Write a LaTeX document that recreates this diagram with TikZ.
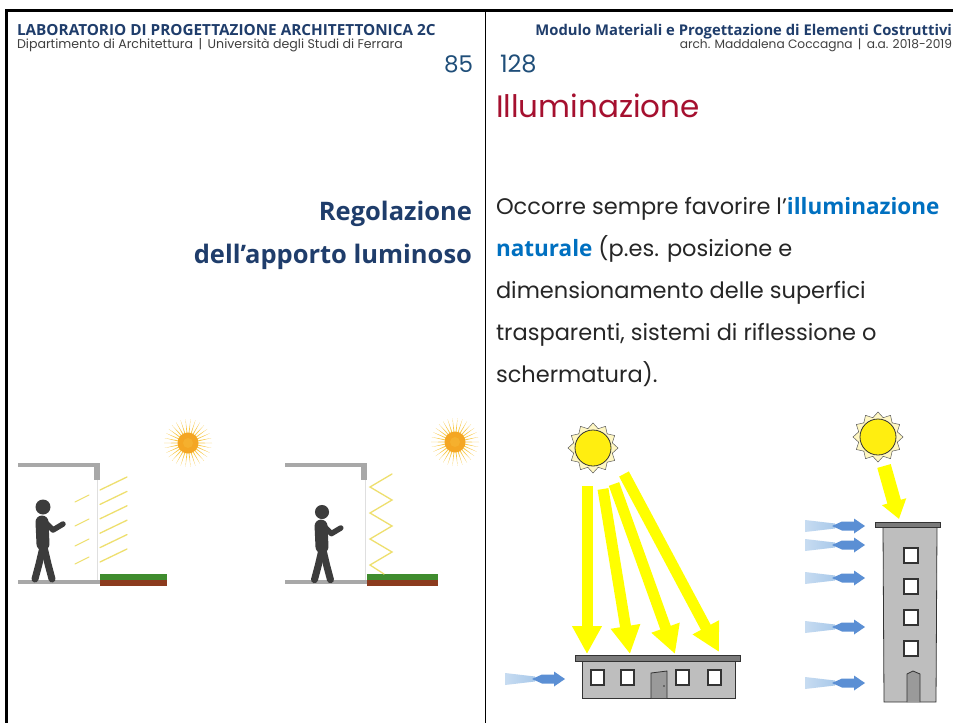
\documentclass[tikz,border=0pt]{standalone}
\usepackage{fontspec}
\setmainfont{Poppins}
\newfontfamily\hdr{Open Sans}
\usetikzlibrary{arrows.meta}

\definecolor{navy}{HTML}{1F3D6B}
\definecolor{numblue}{HTML}{1F4E79}
\definecolor{crimson}{HTML}{A5102F}
\definecolor{hiblue}{HTML}{0070C0}
\definecolor{bodytxt}{HTML}{262626}
\definecolor{subtxt}{HTML}{404040}
\definecolor{wallgray}{HTML}{A8A8A8}
\definecolor{sunray}{HTML}{F8C848}
\definecolor{suncore}{HTML}{F4A623}
\definecolor{louver}{HTML}{EEDF6E}
\definecolor{grass}{HTML}{3F8C2E}
\definecolor{soil}{HTML}{8C3B1E}
\definecolor{figure}{HTML}{3C3C3C}
\definecolor{beam}{HTML}{FFFF00}
\definecolor{sundisc}{HTML}{FFEE10}
\definecolor{sunhalo}{HTML}{FFF7C2}
\definecolor{bldg}{HTML}{BEBEBE}
\definecolor{roof}{HTML}{7A7A7A}
\definecolor{outline}{HTML}{333333}
\definecolor{doorgray}{HTML}{9A9A9A}
\definecolor{windlight}{HTML}{A9C9EA}
\definecolor{winddark}{HTML}{5B8FD4}

\tikzset{
  txt/.style={inner sep=0pt, outer sep=0pt},
  frameline/.style={line width=3pt, black},
  divider/.style={line width=1pt, black},
  slab/.style={fill=wallgray, draw=none},
  louverline/.style={draw=louver, line width=1.3pt, line cap=round},
  limb/.style={draw=figure, line cap=round, line join=round},
  bigbeam/.style={draw=beam, line width=11pt, -{Triangle[width=28pt,length=28pt]}},
  smallbeam/.style={draw=beam, line width=14pt, -{Triangle[width=24pt,length=18pt]}},
  wall/.style={fill=bldg, draw=outline, line width=0.8pt},
  roofslab/.style={fill=roof, draw=outline, line width=0.8pt},
  pane/.style={fill=white, draw=outline, line width=2.8pt},
  doorleaf/.style={fill=doorgray, draw=outline, line width=0.8pt},
}

% radiant orange sun
\newcommand\glowsun[2]{%
  \begin{scope}[shift={(#1,#2)}]
    \foreach \a in {0,12,...,348}{\fill[sunray] (\a-4:8) -- (\a:24) -- (\a+4:8) -- cycle;}
    \fill[suncore] (0,0) circle (10.5);
    \fill[suncore!70!sunray] (0,0) circle (5);
  \end{scope}}

% hand-drawn yellow sun
\newcommand\sketchsun[2]{%
  \begin{scope}[shift={(#1,#2)}]
    \draw[fill=sunhalo, draw=outline!80, line width=0.5pt]
      (0:25) \foreach \a in {15,30,...,345}{ -- (\a:{mod(\a,30)==0 ? 25 : 20})} -- cycle;
    \draw[fill=sundisc, draw=outline, line width=0.8pt] (0,0) circle (18);
  \end{scope}}

% standing figure, origin at head centre
\newcommand\person[3]{%
  \begin{scope}[shift={(#1,#2)}, scale=#3]
    \fill[figure] (0,0) circle (7.5);
    \draw[limb, line width=13pt] (-1,15) -- (0,37);
    \draw[limb, line width=5.5pt] (2,15) -- (10,23) -- (20,17);
    \draw[limb, line width=7pt] (0,40) -- (-4,57) -- (-8,72);
    \draw[limb, line width=7pt] (1,40) -- (5,57) -- (9,72);
  \end{scope}}

% wind arrow, origin at its left end
\newcommand\wind[2]{%
  \begin{scope}[shift={(#1,#2)}]
    \shade[left color=windlight!65, right color=windlight]
      (0,-6) -- (30,-2.5) -- (30,2.5) -- (0,6) -- cycle;
    \fill[winddark] (27,0) -- (37,-4.5) -- (49,-4.5) -- (49,-7.5) -- (60,0)
      -- (49,7.5) -- (49,4.5) -- (37,4.5) -- cycle;
  \end{scope}}

\begin{document}
\begin{tikzpicture}[x=1pt, y=-1pt]
  \useasboundingbox (0,0) rectangle (953,723);
  \fill[white] (0,0) rectangle (953,723);

  % page frame and column divider
  \draw[frameline] (5,10.5) -- (953,10.5);
  \draw[frameline] (6.5,9) -- (6.5,723);
  \draw[divider] (485,10) -- (485,723);

  % left header
  \node[txt, anchor=base west, text=navy, font=\hdr\bfseries\fontsize{15.3}{17}\selectfont]
    (lab) at (17,35) {LABORATORIO DI PROGETTAZIONE ARCHITETTONICA 2C};
  \node[txt, anchor=base west, text=subtxt, font=\fontsize{12.6}{14}\selectfont]
    (dip) at (17,48) {Dipartimento di Architettura \,|\, Università degli Studi di Ferrara};
  \node[txt, anchor=base east, text=numblue, font=\fontsize{23}{25}\selectfont]
    (pgl) at (473,72) {85};

  % right header
  \node[txt, anchor=base east, text=navy, font=\hdr\bfseries\fontsize{14.8}{17}\selectfont]
    (mod) at (952,35) {Modulo Materiali e Progettazione di Elementi Costruttivi};
  \node[txt, anchor=base east, text=subtxt, font=\fontsize{12.2}{14}\selectfont]
    (arch) at (952,48) {arch. Maddalena Coccagna \,|\, a.a. 2018-2019};
  \node[txt, anchor=base west, text=numblue, font=\fontsize{24}{26}\selectfont]
    (pgr) at (500,72) {128};
  \node[txt, anchor=base west, text=crimson, font=\fontsize{31}{34}\selectfont]
    (title) at (496,117) {Illuminazione};

  % side heading
  \node[txt, anchor=base east, text=navy, font=\hdr\bfseries\fontsize{25.5}{28}\selectfont]
    (reg1) at (472,220) {Regolazione};
  \node[txt, anchor=base east, text=navy, font=\hdr\bfseries\fontsize{25.5}{28}\selectfont]
    (reg2) at (472,263) {dell’apporto luminoso};

  % body text
  \begin{scope}[every node/.style={txt, anchor=base west, text=bodytxt, font=\fontsize{22.5}{26}\selectfont}]
    \node (l1) at (496,214) {Occorre sempre favorire l’\textcolor{hiblue}{\hdr\bfseries illuminazione}};
    \node (l2) at (496,256) {\textcolor{hiblue}{\hdr\bfseries naturale} (p.es. posizione e};
    \node (l3) at (496,298) {dimensionamento delle superfici};
    \node (l4) at (496,340) {trasparenti, sistemi di riflessione o};
    \node (l5) at (496,382) {schermatura).};
  \end{scope}

  % ---- section 1: inclined louvers ----
  \fill[slab] (18,463) rectangle (100,467);
  \fill[slab] (94,463) rectangle (100,480);
  \draw[draw=gray!25, line width=0.6pt] (97,480) -- (97,580);
  \fill[slab] (18,580) rectangle (100,584);
  \fill[grass] (100,574) rectangle (167,580);
  \fill[soil] (100,580) rectangle (167,586);
  \foreach \i in {0,...,5}{
    \draw[louverline] (100,{490+14.4*\i}) -- (127,{477+14.4*\i});
  }
  \foreach \yy in {502,526,546,564}{
    \draw[louverline, line width=1pt] (75,\yy) -- (89,\yy-7);
  }
  \person{43}{507}{1}
  \glowsun{188}{443}

  % ---- section 2: folding screen ----
  \fill[slab] (285,463) rectangle (367,467);
  \fill[slab] (361,463) rectangle (367,480);
  \draw[draw=gray!25, line width=0.6pt] (365,480) -- (365,580);
  \fill[slab] (285,580) rectangle (367,584);
  \fill[grass] (367,574) rectangle (438,580);
  \fill[soil] (367,580) rectangle (438,586);
  \draw[louverline] (392,474) -- (370,487) -- (392,500) -- (370,513) -- (392,526)
    -- (370,539) -- (392,552) -- (370,565) -- (384,574);
  \person{322}{512}{0.94}
  \glowsun{455}{442}

  % ---- low building lit from above ----
  \sketchsun{593}{448}
  \draw[bigbeam] (587,486) -- (587,654);
  \draw[bigbeam] (603,489) -- (630,654);
  \draw[bigbeam] (614,484) -- (675,654);
  \draw[bigbeam] (624,474) -- (719,652);
  \draw[wall] (582,661) rectangle (735,698);
  \draw[roofslab] (575,655) rectangle (740,661);
  \foreach \xx in {591,621,676,708}{
    \draw[pane] (\xx,670) rectangle (\xx+13,685);
  }
  \draw[doorleaf] (651,698) -- (651,673) -- (667,671) -- (667,698);
  \fill[outline] (664,686) circle (0.8);
  \wind{505}{679}

  % ---- tower lit from above ----
  \sketchsun{878}{437}
  \draw[smallbeam] (884,466) -- (899,519);
  \draw[wall] (883,527) -- (937,527) -- (936,702) -- (884,702) -- cycle;
  \draw[roofslab] (875,522) rectangle (940,527);
  \foreach \yy in {548,579,610,641}{
    \draw[pane] (904,\yy) rectangle (918,\yy+15);
  }
  \draw[doorleaf] (907,702) -- (907,674) -- (913,671) -- (920,674) -- (920,702);
  \foreach \yy in {526,545,578,627,683}{
    \wind{805}{\yy}
  }
\end{tikzpicture}
\end{document}
